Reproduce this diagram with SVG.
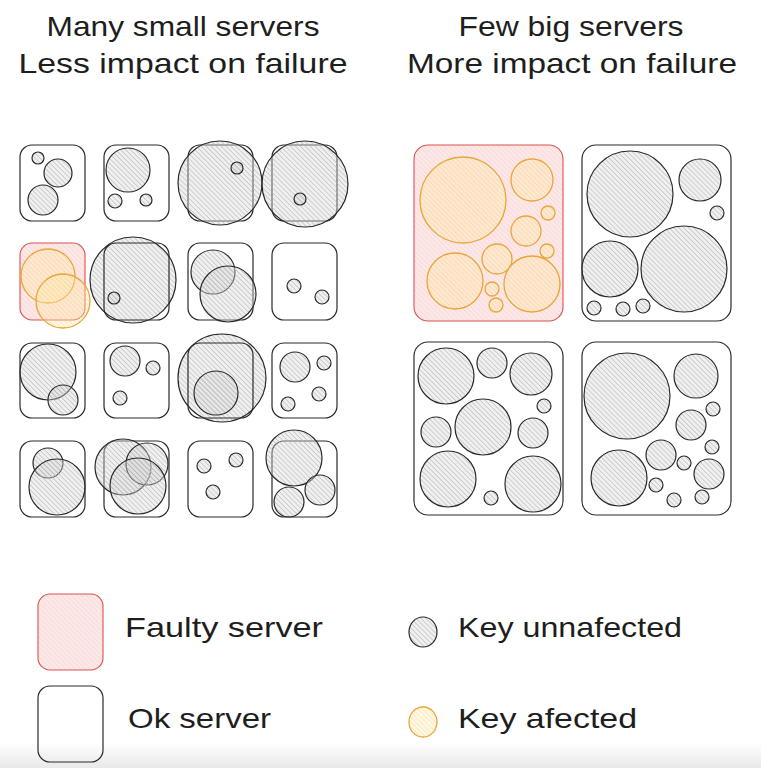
<svg xmlns="http://www.w3.org/2000/svg" width="761" height="768" viewBox="0 0 761 768">
<defs>
<pattern id="hg" patternUnits="userSpaceOnUse" width="3.5" height="3.5" patternTransform="rotate(-45)">
<rect width="3.5" height="3.5" fill="#d4d4d4" fill-opacity="0.35"/>
<line x1="0" y1="0" x2="0" y2="3.5" stroke="#b0b0b0" stroke-width="1.1"/>
</pattern>
<pattern id="ho" patternUnits="userSpaceOnUse" width="3.5" height="3.5" patternTransform="rotate(-45)">
<rect width="3.5" height="3.5" fill="#ffe9a8" fill-opacity="0.3"/>
<line x1="0" y1="0" x2="0" y2="3.5" stroke="#f8dc95" stroke-width="1"/>
</pattern>
<pattern id="hr" patternUnits="userSpaceOnUse" width="3.5" height="3.5" patternTransform="rotate(-45)">
<rect width="3.5" height="3.5" fill="#fde8e8"/>
<line x1="0" y1="0" x2="0" y2="3.5" stroke="#f6cfcf" stroke-width="1"/>
</pattern>
<linearGradient id="shade" x1="0" y1="0" x2="0" y2="1">
<stop offset="0" stop-color="#ffffff"/>
<stop offset="1" stop-color="#e9e9e9"/>
</linearGradient>
</defs>
<style>
.srv{fill:none;stroke:#2a2a2a;stroke-width:1.2}
.bad{fill:url(#hr);stroke:#d9534f;stroke-width:1.1}
.k{fill:url(#hg);stroke:#2a2a2a;stroke-width:1.2}
.a{fill:url(#ho);stroke:#eba53a;stroke-width:1.3}
.t{font-family:"Liberation Sans","DejaVu Sans",sans-serif;font-size:28px;fill:#1e1e1e}
</style>
<rect width="761" height="768" fill="#ffffff"/>
<rect x="0" y="742" width="761" height="26" fill="url(#shade)"/>

<g id="titles">
<text class="t" x="183" y="36" text-anchor="middle" textLength="273" lengthAdjust="spacingAndGlyphs">Many small servers</text>
<text class="t" x="183" y="73" text-anchor="middle" textLength="329" lengthAdjust="spacingAndGlyphs">Less impact on failure</text>
<text class="t" x="571" y="36" text-anchor="middle" textLength="225" lengthAdjust="spacingAndGlyphs">Few big servers</text>
<text class="t" x="572" y="73" text-anchor="middle" textLength="330" lengthAdjust="spacingAndGlyphs">More impact on failure</text>
</g>

<!-- small servers row 1 -->
<g id="s11"><rect class="srv" x="20" y="145" width="65" height="76" rx="12"/>
<circle class="k" cx="38" cy="158" r="6"/><circle class="k" cx="58" cy="173" r="14"/><circle class="k" cx="43" cy="200" r="15"/></g>
<g id="s12"><rect class="srv" x="104" y="145" width="65" height="76" rx="12"/>
<circle class="k" cx="128" cy="170" r="22"/><circle class="k" cx="115" cy="201" r="7"/><circle class="k" cx="146" cy="200" r="6"/></g>
<g id="s13"><rect class="srv" x="188" y="145" width="65" height="76" rx="12"/>
<circle class="k" cx="220" cy="183" r="42"/><circle class="k" cx="237" cy="168" r="6"/></g>
<g id="s14"><rect class="srv" x="272" y="145" width="65" height="76" rx="12"/>
<circle class="k" cx="305" cy="184" r="43"/><circle class="k" cx="300" cy="199" r="6"/></g>

<!-- row 2 -->
<g id="s21"><rect class="bad" x="20" y="243" width="65" height="77" rx="12"/>
<circle class="a" cx="48" cy="276" r="27"/><circle class="a" cx="63" cy="301" r="27"/></g>
<g id="s22"><circle class="k" cx="133" cy="280" r="43"/><rect class="srv" x="104" y="243" width="65" height="77" rx="12"/>
<circle class="k" cx="114" cy="298" r="6"/></g>
<g id="s23"><rect class="srv" x="188" y="243" width="65" height="77" rx="12"/>
<circle class="k" cx="213" cy="272" r="22"/><circle class="k" cx="228" cy="294" r="28"/></g>
<g id="s24"><rect class="srv" x="272" y="243" width="65" height="77" rx="12"/>
<circle class="k" cx="294" cy="286" r="7"/><circle class="k" cx="322" cy="297" r="7"/></g>

<!-- row 3 -->
<g id="s31"><rect class="srv" x="20" y="343" width="65" height="75" rx="12"/>
<circle class="k" cx="48" cy="372" r="28"/><circle class="k" cx="63" cy="400" r="15"/></g>
<g id="s32"><rect class="srv" x="104" y="343" width="65" height="75" rx="12"/>
<circle class="k" cx="125" cy="361" r="15"/><circle class="k" cx="153" cy="368" r="7"/><circle class="k" cx="120" cy="398" r="7"/></g>
<g id="s33"><circle class="k" cx="222" cy="378" r="44"/><rect class="srv" x="188" y="343" width="65" height="75" rx="12"/>
<circle class="k" cx="216" cy="393" r="22"/></g>
<g id="s34"><rect class="srv" x="272" y="343" width="65" height="75" rx="12"/>
<circle class="k" cx="295" cy="367" r="15"/><circle class="k" cx="324" cy="363" r="7"/><circle class="k" cx="319" cy="394" r="7"/><circle class="k" cx="288" cy="404" r="7"/></g>

<!-- row 4 -->
<g id="s41"><rect class="srv" x="20" y="441" width="65" height="76" rx="12"/>
<circle class="k" cx="48" cy="463" r="15"/><circle class="k" cx="57" cy="487" r="28"/></g>
<g id="s42"><rect class="srv" x="104" y="441" width="65" height="76" rx="12"/>
<circle class="k" cx="123" cy="467" r="28"/><circle class="k" cx="147" cy="464" r="21"/><circle class="k" cx="138" cy="486" r="28"/></g>
<g id="s43"><rect class="srv" x="188" y="441" width="65" height="76" rx="12"/>
<circle class="k" cx="204" cy="466" r="7"/><circle class="k" cx="236" cy="460" r="7"/><circle class="k" cx="213" cy="492" r="7"/></g>
<g id="s44"><rect class="srv" x="272" y="441" width="65" height="76" rx="12"/>
<circle class="k" cx="294" cy="458" r="28"/><circle class="k" cx="320" cy="490" r="15"/><circle class="k" cx="289" cy="502" r="15"/></g>

<!-- big servers -->
<g id="b1"><rect class="bad" x="414" y="145" width="149" height="176" rx="14"/>
<circle class="a" cx="463" cy="200" r="43"/><circle class="a" cx="532" cy="180" r="21"/><circle class="a" cx="548" cy="213" r="7"/>
<circle class="a" cx="526" cy="231" r="15"/><circle class="a" cx="547" cy="251" r="7"/><circle class="a" cx="497" cy="259" r="15"/>
<circle class="a" cx="455" cy="281" r="28"/><circle class="a" cx="532" cy="284" r="28"/><circle class="a" cx="492" cy="289" r="7"/><circle class="a" cx="496" cy="305" r="7"/></g>

<g id="b2"><rect class="srv" x="582" y="145" width="149" height="176" rx="14"/>
<circle class="k" cx="630" cy="194" r="43"/><circle class="k" cx="700" cy="180" r="21"/><circle class="k" cx="717" cy="213" r="7"/>
<circle class="k" cx="610" cy="269" r="28"/><circle class="k" cx="684" cy="269" r="43"/>
<circle class="k" cx="594" cy="308" r="7"/><circle class="k" cx="623" cy="309" r="7"/><circle class="k" cx="643" cy="306" r="7"/></g>

<g id="b3"><rect class="srv" x="414" y="342" width="149" height="173" rx="14"/>
<circle class="k" cx="446" cy="376" r="28"/><circle class="k" cx="492" cy="363" r="15"/><circle class="k" cx="531" cy="374" r="21"/>
<circle class="k" cx="544" cy="406" r="7"/><circle class="k" cx="436" cy="432" r="15"/><circle class="k" cx="483" cy="427" r="28"/>
<circle class="k" cx="533" cy="433" r="15"/><circle class="k" cx="448" cy="479" r="28"/><circle class="k" cx="533" cy="484" r="28"/><circle class="k" cx="491" cy="498" r="7"/></g>

<g id="b4"><rect class="srv" x="582" y="342" width="149" height="173" rx="14"/>
<circle class="k" cx="627" cy="396" r="43"/><circle class="k" cx="696" cy="376" r="22"/><circle class="k" cx="713" cy="409" r="7"/>
<circle class="k" cx="691" cy="425" r="15"/><circle class="k" cx="712" cy="447" r="7"/><circle class="k" cx="661" cy="455" r="15"/>
<circle class="k" cx="684" cy="463" r="7"/><circle class="k" cx="709" cy="474" r="15"/><circle class="k" cx="619" cy="478" r="28"/>
<circle class="k" cx="656" cy="485" r="7"/><circle class="k" cx="674" cy="500" r="7"/><circle class="k" cx="702" cy="497" r="7"/></g>

<!-- legend -->
<g id="leg-faulty"><rect class="bad" x="38" y="594" width="65" height="76" rx="12"/>
<text class="t" x="125" y="637" textLength="198" lengthAdjust="spacingAndGlyphs">Faulty server</text></g>
<g id="leg-ok"><rect class="srv" x="38" y="686" width="65" height="76" rx="12"/>
<text class="t" x="128" y="728" textLength="143" lengthAdjust="spacingAndGlyphs">Ok server</text></g>
<g id="leg-unaffected"><ellipse class="k" cx="423" cy="632" rx="14" ry="15"/>
<text class="t" x="458" y="637" textLength="224" lengthAdjust="spacingAndGlyphs">Key unnafected</text></g>
<g id="leg-affected"><ellipse class="a" cx="423" cy="722" rx="14" ry="15"/>
<text class="t" x="458" y="728" textLength="179" lengthAdjust="spacingAndGlyphs">Key afected</text></g>
</svg>
